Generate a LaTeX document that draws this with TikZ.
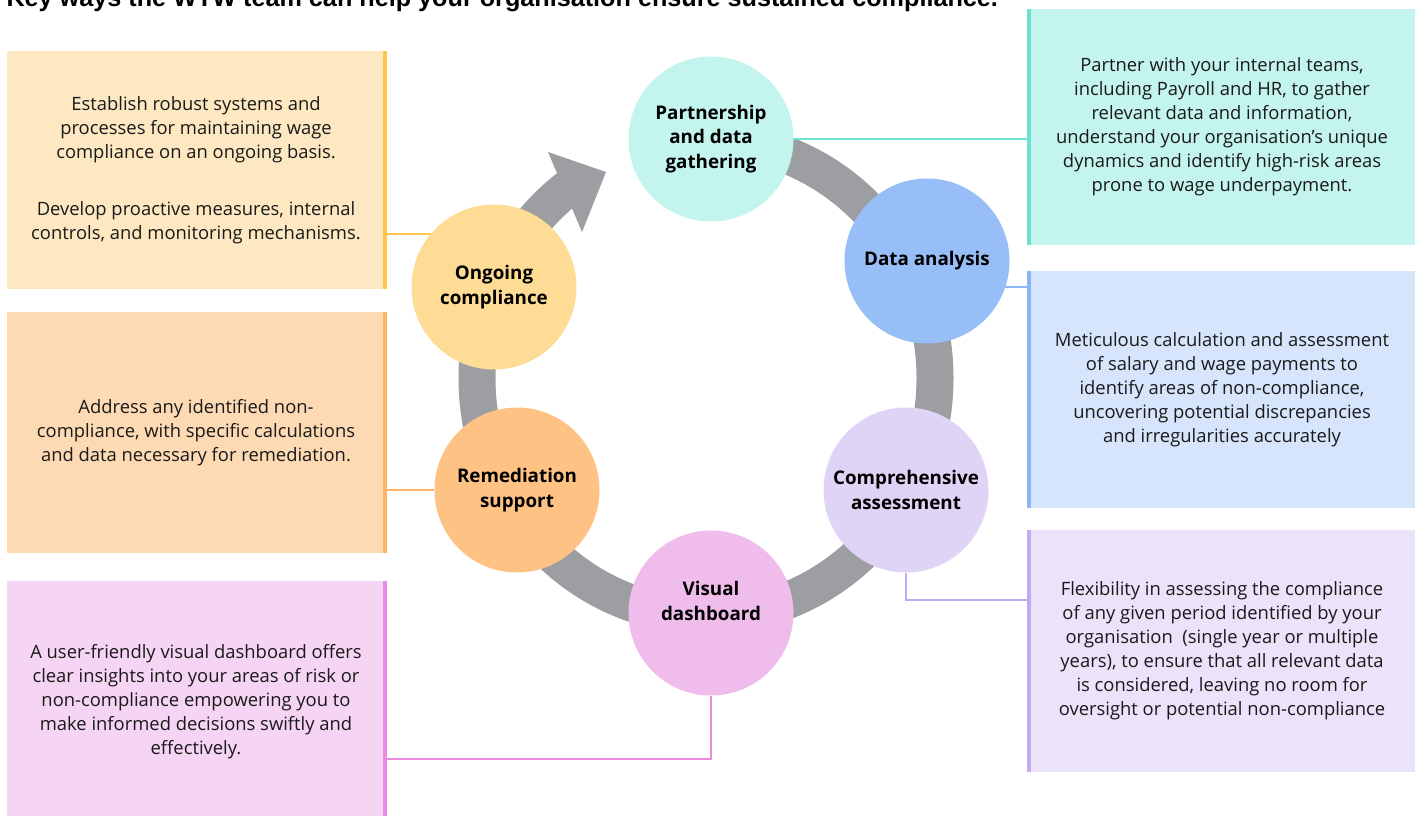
\documentclass[tikz,border=0pt]{standalone}
\usepackage{fontspec}
\setmainfont{Open Sans}
\newfontfamily\headfont{Liberation Sans}
\usetikzlibrary{backgrounds}

% palette
\definecolor{ringgray}{HTML}{9D9EA2}
\definecolor{textdark}{HTML}{1A1A1A}
\definecolor{ongoingfill}{HTML}{FEDC95}
\definecolor{remedfill}{HTML}{FEC384}
\definecolor{visualfill}{HTML}{F0BCEC}
\definecolor{comprefill}{HTML}{DFD4F6}
\definecolor{datafill}{HTML}{97BEF6}
\definecolor{partnerfill}{HTML}{C4F4EE}
\definecolor{ongoingbox}{HTML}{FDE8C1}
\definecolor{remedbox}{HTML}{FDD9B4}
\definecolor{visualbox}{HTML}{F6D4F3}
\definecolor{partnerbox}{HTML}{C4F4EE}
\definecolor{databox}{HTML}{D6E5FB}
\definecolor{comprebox}{HTML}{EBE3F9}
\definecolor{ongoingline}{HTML}{FFC64A}
\definecolor{remedline}{HTML}{FDB46A}
\definecolor{visualline}{HTML}{E98CE2}
\definecolor{partnerline}{HTML}{6BE3D3}
\definecolor{dataline}{HTML}{8AB6F2}
\definecolor{compreline}{HTML}{C4AAF0}

\tikzset{
  infobox/.style={rectangle, inner sep=0pt, align=center, text=textdark,
    font=\fontsize{18.4}{24}\selectfont},
  stage/.style={circle, inner sep=0pt, minimum size=165pt, align=center,
    text=black, font=\bfseries\fontsize{18.8}{24.5}\selectfont},
  stripe/.style={line width=4pt},
  link/.style={line width=2pt},
}

\begin{document}
\begin{tikzpicture}[x=1pt, y=1pt]
    \useasboundingbox (0, 0) rectangle (1418, 815);
    \clip (0, 0) rectangle (1418, 815);

    \node[anchor=base west, font=\headfont\bfseries\fontsize{25.2}{28}\selectfont]
      (title) at (3, 808)
      {Key ways the WTW team can help your organisation ensure sustained compliance.};

    % text panels, left column
    \node[infobox, fill=ongoingbox, minimum width=378pt, minimum height=238pt]
      (b1) at (196, 645)
      {Establish robust systems and\\ processes for maintaining wage\\
       compliance on an ongoing basis.\\[33pt]
       Develop proactive measures, internal\\ controls, and monitoring mechanisms.};
    \node[infobox, fill=remedbox, minimum width=378pt, minimum height=241pt]
      (b2) at (196, 382.5)
      {Address any identified non-\\ compliance, with specific calculations\\
       and data necessary for remediation.};
    \node[infobox, fill=visualbox, minimum width=378pt, minimum height=242pt]
      (b3) at (196, 113)
      {A user-friendly visual dashboard offers\\ clear insights into your areas of risk or\\
       non-compliance empowering you to\\ make informed decisions swiftly and\\
       effectively.};

    % text panels, right column
    \node[infobox, fill=partnerbox, minimum width=386pt, minimum height=236pt]
      (b4) at (1222, 688)
      {Partner with your internal teams,\\ including Payroll and HR, to gather\\
       relevant data and information,\\ understand your organisation’s unique\\
       dynamics and identify high-risk areas\\ prone to wage underpayment.};
    \node[infobox, fill=databox, minimum width=386pt, minimum height=237pt]
      (b5) at (1222, 425.5)
      {Meticulous calculation and assessment\\ of salary and wage payments to\\
       identify areas of non-compliance,\\ uncovering potential discrepancies\\
       and irregularities accurately};
    \node[infobox, fill=comprebox, minimum width=386pt, minimum height=242pt]
      (b6) at (1222, 164)
      {Flexibility in assessing the compliance\\ of any given period identified by your\\
       organisation \ (single year or multiple\\ years), to ensure that all relevant data\\
       is considered, leaving no room for\\ oversight or potential non-compliance};

    \draw[stripe, ongoingline] (b1.north east) -- (b1.south east);
    \draw[stripe, remedline] (b2.north east) -- (b2.south east);
    \draw[stripe, visualline] (b3.north east) -- (b3.south east);
    \draw[stripe, partnerline] (b4.north west) -- (b4.south west);
    \draw[stripe, dataline] (b5.north west) -- (b5.south west);
    \draw[stripe, compreline] (b6.north west) -- (b6.south west);

    % the six stages round the cycle
    \node[stage, fill=partnerfill] (partner) at (711, 676) {Partnership\\ and data\\ gathering};
    \node[stage, fill=datafill] (data) at (927, 554) {Data analysis};
    \node[stage, fill=comprefill] (compre) at (906, 325) {Comprehensive\\ assessment};
    \node[stage, fill=visualfill] (visual) at (711, 202) {Visual\\ dashboard\\ \mbox{}};
    \node[stage, fill=remedfill] (remed) at (517, 325) {Remediation\\ support};
    \node[stage, fill=ongoingfill] (ongoing) at (494, 528) {Ongoing\\ compliance};

    \begin{pgfonlayer}{background}
      % grey ring with its arrow head
      \coordinate (ringc) at (706, 437);
      \draw[ringgray, line width=37pt] (ringc) ++(90:229 and 238)
        arc[start angle=90, end angle=-233.5, x radius=229, y radius=238];
      \fill[ringgray] (548, 663) -- (606, 643) -- (582, 583) -- cycle;

      % connectors from panels to stages
      \draw[link, ongoingline] (b1.east |- 0, 581) -- (ongoing.center |- 0, 581);
      \draw[link, remedline] (b2.east |- remed) -- (remed);
      \draw[link, visualline] (b3.east |- 0, 56) -- (visual |- 0, 56) -- (visual);
      \draw[link, partnerline] (partner) -- (partner -| b4.west);
      \draw[link, dataline] (data.center |- 0, 528) -- (b5.west |- 0, 528);
      \draw[link, compreline] (compre) -- (compre |- 0, 215) -- (b6.west |- 0, 215);
    \end{pgfonlayer}
\end{tikzpicture}
\end{document}
